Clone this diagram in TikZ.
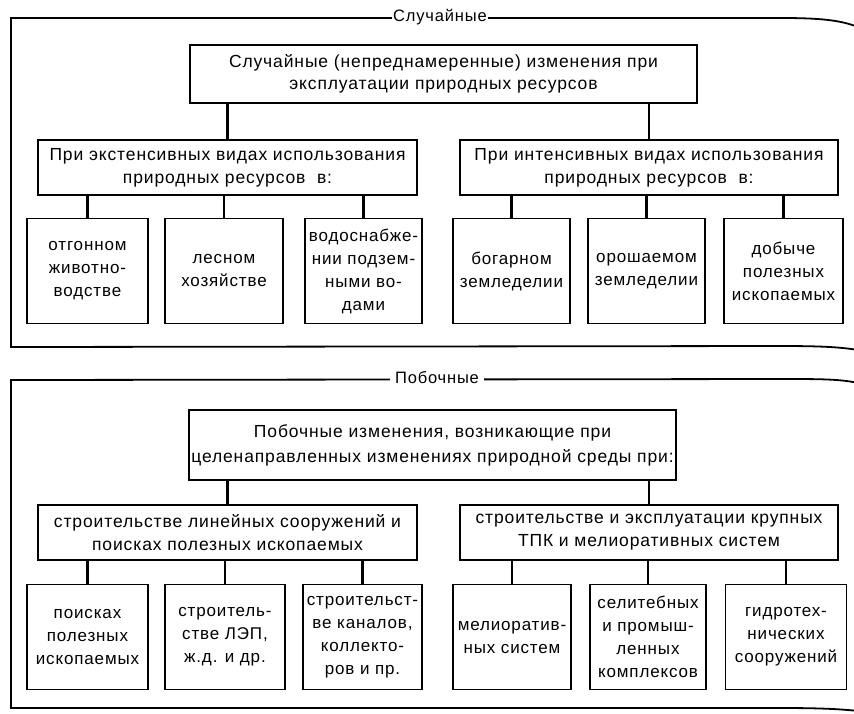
\documentclass[tikz,border=0pt]{standalone}
\usepackage{fontspec}
\setmainfont[LetterSpace=5]{Liberation Sans}
\begin{document}
\begin{tikzpicture}[x=1pt,y=-1pt,
  every node/.style={inner sep=0pt, outer sep=0pt},
  bigbox/.style={draw, line width=1.8pt, align=center, font=\fontsize{17.5}{22}\selectfont},
  smallbox/.style={draw, line width=1.8pt, align=center, minimum width=118pt, minimum height=105pt, font=\fontsize{17}{23}\selectfont},
  framel/.style={line width=1.8pt},
  conn/.style={line width=2.2pt},
  ftitle/.style={fill=white, inner xsep=1pt, font=\fontsize{16.5}{20}\selectfont}]
\useasboundingbox (0,0) rectangle (854,713);
\fill[white] (0,0) rectangle (854,713);
% ---- frame 1
\draw[framel] (858,27) .. controls (840,20) and (820,18) .. (780,18) -- (11,18) -- (11,347) -- (780,346) .. controls (820,346) and (840,347) .. (858,350);
\node[ftitle] (t1) at (440,17) {Случайные};
\node[bigbox, minimum width=507pt, minimum height=58pt] (m1) at (443.5,74)
  {Случайные (непреднамеренные) изменения при\\эксплуатации природных ресурсов};
\node[bigbox, minimum width=379pt, minimum height=55pt, font=\fontsize{17.5}{23}\selectfont] (l1) at (227.5,167.5)
  {При экстенсивных видах использования\\природных ресурсов\ \ в:};
\node[bigbox, minimum width=378pt, minimum height=55pt, font=\fontsize{17.5}{23}\selectfont] (r1) at (649,167.5)
  {При интенсивных видах использования\\природных ресурсов\ \ в:};
\node[smallbox, minimum width=121pt] (a1) at (87.5,271) {отгонном\\животно-\\водстве};
\node[smallbox] (a2) at (224,271) {лесном\\хозяйстве};
\node[smallbox, minimum width=117pt] (a3) at (363.5,271) {водоснабже-\\нии подзем-\\ными во-\\дами};
\node[smallbox, minimum width=117pt] (a4) at (511.5,271) {богарном\\земледелии};
\node[smallbox, minimum width=117pt] (a5) at (646.5,271) {орошаемом\\земледелии};
\node[smallbox, minimum width=119pt] (a6) at (783.5,271) {добыче\\полезных\\ископаемых};
\draw[conn] (l1.north) -- (l1.north |- m1.south);
\draw[conn] (r1.north) -- (r1.north |- m1.south);
\foreach \n in {a1,a2,a3} \draw[conn] (\n.north) -- (\n.north |- l1.south);
\foreach \n in {a4,a5,a6} \draw[conn] (\n.north) -- (\n.north |- r1.south);
% ---- frame 2
\draw[framel] (858,383) .. controls (840,379) and (820,379) .. (780,379) -- (11,380) -- (11,708) -- (780,708) .. controls (820,708) and (840,709) .. (858,711);
\node[ftitle, inner xsep=5pt] (t2) at (437,378) {Побочные};
\node[bigbox, minimum width=487pt, minimum height=70pt, font=\fontsize{17.5}{25}\selectfont] (m2) at (432.5,445)
  {Побочные изменения, возникающие при\\целенаправленных изменениях природной среды при:};
\node[bigbox, minimum width=379pt, minimum height=55pt, font=\fontsize{17.5}{23}\selectfont] (l2) at (227.5,532.5)
  {строительстве линейных сооружений и\\поисках полезных ископаемых};
\node[bigbox, minimum width=378pt, minimum height=55pt, font=\fontsize{17.5}{23}\selectfont] (r2) at (649,532.5)
  {строительстве и эксплуатации крупных\\ТПК и мелиоративных систем};
\node[smallbox, minimum width=121pt] (b1) at (87.5,637) {поисках\\полезных\\ископаемых};
\node[smallbox, minimum width=120pt] (b2) at (225,637) {строитель-\\стве ЛЭП,\\ж.д. и др.};
\node[smallbox, minimum width=119pt] (b3) at (362.5,637) {строительст-\\ве каналов,\\коллекто-\\ров и пр.};
\node[smallbox, minimum width=118pt] (b4) at (512,637) {мелиоратив-\\ных систем};
\node[smallbox, minimum width=116pt] (b5) at (648,637) {селитебных\\и промыш-\\ленных\\комплексов};
\node[smallbox, minimum width=121pt] (b6) at (786,637) {гидротех-\\нических\\сооружений};
\draw[conn] (l2.north) -- (l2.north |- m2.south);
\draw[conn] (r2.north) -- (r2.north |- m2.south);
\foreach \n in {b1,b2,b3} \draw[conn] (\n.north) -- (\n.north |- l2.south);
\foreach \n in {b4,b5,b6} \draw[conn] (\n.north) -- (\n.north |- r2.south);
\end{tikzpicture}
\end{document}
